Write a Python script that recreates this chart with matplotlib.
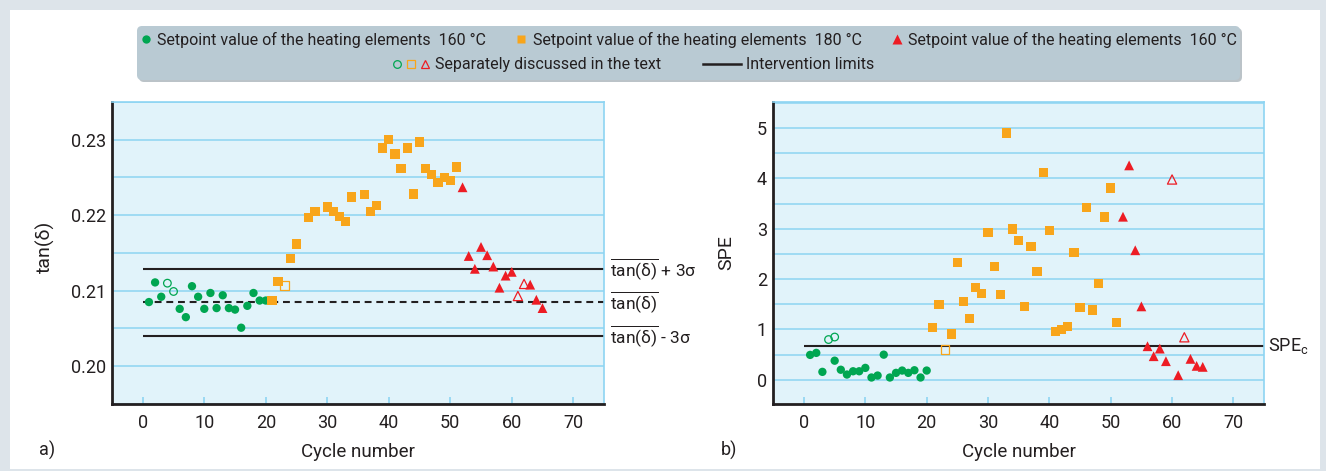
import matplotlib.pyplot as plt
from matplotlib.patches import FancyBboxPatch, Rectangle
from matplotlib.lines import Line2D
from matplotlib.legend_handler import HandlerTuple
from matplotlib.ticker import MultipleLocator, FormatStrFormatter

plt.rcParams['font.family'] = ['Roboto', 'DejaVu Sans']
plt.rcParams['mathtext.fontset'] = 'custom'
plt.rcParams['mathtext.rm'] = 'Roboto'
plt.rcParams['mathtext.it'] = 'Roboto:italic'

GREEN = '#00a651'
ORANGE = '#f8a51b'
RED = '#ed1c24'
GRID = '#8dd4f2'
PANEL = '#e1f3fa'
INK = '#231f20'

# ---- a) tan(delta) ----
tan_green_x = [1, 2, 3, 6, 7, 8, 9, 10, 11, 12, 13, 14, 15, 16, 17, 18, 19, 20]
tan_green_y = [0.2085, 0.2111, 0.2092, 0.2076, 0.2065, 0.2106, 0.2092, 0.2076, 0.2097,
               0.2077, 0.2094, 0.2077, 0.2075, 0.2051, 0.2080, 0.2097, 0.2087, 0.2087]
tan_green_open_x = [4, 5]
tan_green_open_y = [0.2110, 0.2099]
tan_orange_x = [21, 22, 24, 25, 27, 28, 30, 31, 32, 33, 34, 36, 37, 38, 39, 40, 41, 42,
                43, 44, 45, 46, 47, 48, 49, 50, 51]
tan_orange_y = [0.2087, 0.2112, 0.2143, 0.2162, 0.2197, 0.2205, 0.2211, 0.2205, 0.2198,
                0.2192, 0.2224, 0.2227, 0.2205, 0.2213, 0.2289, 0.2300, 0.2281, 0.2262,
                0.2289, 0.2228, 0.2297, 0.2262, 0.2254, 0.2243, 0.2250, 0.2246, 0.2264]
tan_orange_open_x = [23]
tan_orange_open_y = [0.2107]
tan_red_x = [52, 53, 54, 55, 56, 57, 58, 59, 60, 63, 64, 65]
tan_red_y = [0.2237, 0.2146, 0.2129, 0.2158, 0.2147, 0.2132, 0.2104, 0.2120, 0.2125,
             0.2108, 0.2088, 0.2077]
tan_red_open_x = [61, 62]
tan_red_open_y = [0.2093, 0.2109]
tan_ucl, tan_mean, tan_lcl = 0.2129, 0.2085, 0.2040

# ---- b) SPE ----
spe_green_x = [1, 2, 3, 5, 6, 7, 8, 9, 10, 11, 12, 13, 14, 15, 16, 17, 18, 19, 20]
spe_green_y = [0.495, 0.535, 0.158, 0.38, 0.20, 0.105, 0.17, 0.17, 0.237, 0.046, 0.085,
               0.50, 0.046, 0.138, 0.184, 0.138, 0.19, 0.046, 0.184]
spe_green_open_x = [4, 5]
spe_green_open_y = [0.80, 0.85]
spe_orange_x = [21, 22, 24, 25, 26, 27, 28, 29, 30, 31, 32, 33, 34, 35, 36, 37, 38, 39, 40,
                41, 42, 43, 44, 45, 46, 47, 48, 49, 50, 51]
spe_orange_y = [1.043, 1.498, 0.911, 2.33, 1.558, 1.221, 1.828, 1.716, 2.924, 2.257, 1.696,
                4.904, 2.997, 2.766, 1.459, 2.653, 2.152, 4.119, 2.970, 0.964, 0.997, 1.056,
                2.535, 1.439, 3.426, 1.386, 1.908, 3.234, 3.809, 1.142]
spe_orange_open_x = [23]
spe_orange_open_y = [0.607]
spe_red_x = [52, 53, 54, 55, 56, 57, 58, 59, 61, 63, 64, 65]
spe_red_y = [3.24, 4.26, 2.574, 1.459, 0.667, 0.469, 0.62, 0.37, 0.092, 0.416, 0.277, 0.257]
spe_red_open_x = [60, 62]
spe_red_open_y = [3.98, 0.845]
spe_c = 0.68

X_MIN, X_MAX = -5, 75

fig = plt.figure(figsize=(13.26, 4.71), dpi=100, facecolor='#dde4ea')
fig.add_artist(Rectangle((0.10, 0.02), 13.10, 4.59, transform=fig.dpi_scale_trans,
                         fc='white', ec='none', zorder=-2))

# legend box
fig.add_artist(FancyBboxPatch((1.39, 3.89), 11.03, 0.54, transform=fig.dpi_scale_trans,
                              boxstyle='round,pad=0,rounding_size=0.05',
                              fc='#8e9ca4', ec='none', alpha=0.6, zorder=-1))
fig.add_artist(FancyBboxPatch((1.37, 3.91), 11.03, 0.54, transform=fig.dpi_scale_trans,
                              boxstyle='round,pad=0,rounding_size=0.05',
                              fc='#b9cad3', ec='none', zorder=-1))

ax1 = fig.add_axes([0.0845, 0.1423, 0.3710, 0.6412])
ax2 = fig.add_axes([0.5832, 0.1423, 0.3701, 0.6412])


def style_axes(ax):
    ax.set_facecolor(PANEL)
    ax.set_axisbelow(True)
    ax.set_xlim(X_MIN, X_MAX)
    ax.xaxis.set_major_locator(MultipleLocator(10))
    ax.grid(axis='y', which='both', color=GRID, lw=1.1)
    for side in ('left', 'bottom'):
        ax.spines[side].set_color(INK)
        ax.spines[side].set_linewidth(2)
    for side in ('top', 'right'):
        ax.spines[side].set_color(GRID)
        ax.spines[side].set_linewidth(1.2)
    ax.tick_params(axis='x', direction='in', length=5, width=1.2, color=GRID,
                   pad=7, labelsize=13, labelcolor=INK)
    ax.tick_params(axis='y', which='both', length=0, pad=4.5, labelsize=13, labelcolor=INK)
    ax.set_xlabel('Cycle number', fontsize=13.5, color=INK)
    ax.xaxis.set_label_coords(0.5, -0.128)


def draw_points(ax, gx, gy, gox, goy, ox, oy, oox, ooy, rx, ry, rox, roy):
    ax.scatter(gx, gy, s=36, marker='o', c=GREEN, edgecolors='none', zorder=3)
    ax.scatter(gox, goy, s=30, marker='o', facecolors='none', edgecolors=GREEN,
               linewidths=0.9, zorder=3)
    ax.scatter(ox, oy, s=44, marker='s', c=ORANGE, edgecolors='none', zorder=3)
    ax.scatter(oox, ooy, s=40, marker='s', facecolors='none', edgecolors=ORANGE,
               linewidths=0.9, zorder=3)
    ax.scatter(rx, ry, s=50, marker='^', c=RED, edgecolors='none', zorder=3)
    ax.scatter(rox, roy, s=44, marker='^', facecolors='none', edgecolors=RED,
               linewidths=0.9, zorder=3)


# a)
style_axes(ax1)
ax1.set_ylim(0.195, 0.235)
ax1.yaxis.set_major_locator(MultipleLocator(0.01))
ax1.yaxis.set_minor_locator(MultipleLocator(0.005))
ax1.yaxis.set_major_formatter(FormatStrFormatter('%.2f'))
draw_points(ax1, tan_green_x, tan_green_y, tan_green_open_x, tan_green_open_y,
            tan_orange_x, tan_orange_y, tan_orange_open_x, tan_orange_open_y,
            tan_red_x, tan_red_y, tan_red_open_x, tan_red_open_y)
ax1.hlines([tan_ucl, tan_lcl], 0, X_MAX, colors=INK, lw=1.5, zorder=2)
ax1.hlines(tan_mean, 0, X_MAX, colors=INK, lw=1.5, linestyles=(0, (3.3, 2.3)), zorder=2)
ytr = ax1.get_yaxis_transform()
ax1.text(1.012, tan_ucl, r'$\overline{\mathrm{tan(\delta)}}$ + 3σ', transform=ytr,
         va='center', ha='left', fontsize=12.5, color=INK)
ax1.text(1.012, tan_mean, r'$\overline{\mathrm{tan(\delta)}}$', transform=ytr,
         va='center', ha='left', fontsize=12.5, color=INK)
ax1.text(1.012, tan_lcl, r'$\overline{\mathrm{tan(\delta)}}$ - 3σ', transform=ytr,
         va='center', ha='left', fontsize=12.5, color=INK)
ax1.set_ylabel('tan(δ)', fontsize=14, color=INK)
ax1.yaxis.set_label_coords(-0.116, 0.52)
ax1.text(-0.132, -0.155, 'a)', transform=ax1.transAxes, ha='center', va='center',
         fontsize=13, color=INK)

# b)
style_axes(ax2)
ax2.set_ylim(-0.48, 5.52)
ax2.yaxis.set_major_locator(MultipleLocator(1))
ax2.yaxis.set_minor_locator(MultipleLocator(0.5))
draw_points(ax2, spe_green_x, spe_green_y, spe_green_open_x, spe_green_open_y,
            spe_orange_x, spe_orange_y, spe_orange_open_x, spe_orange_open_y,
            spe_red_x, spe_red_y, spe_red_open_x, spe_red_open_y)
ax2.hlines(spe_c, 0, X_MAX, colors=INK, lw=1.5, zorder=2)
ax2.text(1.008, spe_c, r'SPE$_\mathrm{c}$', transform=ax2.get_yaxis_transform(),
         va='center', ha='left', fontsize=13, color=INK)
ax2.set_ylabel('SPE', fontsize=14, color=INK)
ax2.yaxis.set_label_coords(-0.078, 0.5)
ax2.text(-0.09, -0.155, 'b)', transform=ax2.transAxes, ha='center', va='center',
         fontsize=13, color=INK)

# legend
label_160 = 'Setpoint value of the heating elements  160 °C'
label_180 = 'Setpoint value of the heating elements  180 °C'
h_green = Line2D([], [], ls='none', marker='o', ms=6, mfc=GREEN, mec='none')
h_orange = Line2D([], [], ls='none', marker='s', ms=6, mfc=ORANGE, mec='none')
h_red = Line2D([], [], ls='none', marker='^', ms=6.5, mfc=RED, mec='none')
fig.legend([h_green, h_orange, h_red], [label_160, label_180, label_160],
           ncol=3, loc='center', bbox_to_anchor=(0.5196, 0.9151), frameon=False,
           fontsize=11.5, handlelength=0.6, handletextpad=0.4, columnspacing=1.9,
           labelcolor=INK)
o_green = Line2D([], [], ls='none', marker='o', ms=5.5, mfc='none', mec=GREEN, mew=0.9)
o_orange = Line2D([], [], ls='none', marker='s', ms=5.5, mfc='none', mec=ORANGE, mew=0.9)
o_red = Line2D([], [], ls='none', marker='^', ms=6, mfc='none', mec=RED, mew=0.9)
h_line = Line2D([], [], color=INK, lw=1.8)
fig.legend([(o_green, o_orange, o_red), h_line],
           ['Separately discussed in the text', 'Intervention limits'],
           handler_map={tuple: HandlerTuple(ndivide=None, pad=0.2)},
           ncol=2, loc='center', bbox_to_anchor=(0.4774, 0.862), frameon=False,
           fontsize=11.5, handlelength=2.4, handletextpad=0.3, columnspacing=2.6,
           labelcolor=INK)

fig.savefig('out.png', dpi=100, facecolor=fig.get_facecolor())
